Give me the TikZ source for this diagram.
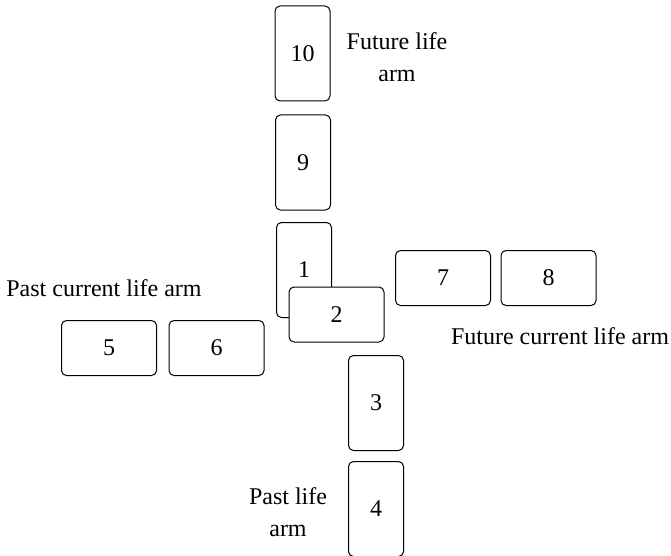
\documentclass[tikz,border=0pt]{standalone}
\usepackage{fontspec}
\setmainfont{Liberation Serif}
\usepackage{tikz}

\tikzset{
  card/.style={draw, line width=1pt, rounded corners=5pt, fill=white,
    inner sep=0pt, font=\fontsize{24}{32}\selectfont},
  vcard/.style={card, minimum width=55pt, minimum height=95pt},
  hcard/.style={card, minimum width=95pt, minimum height=55pt},
  armlabel/.style={align=center, inner sep=0pt, font=\fontsize{24}{32}\selectfont}
}

\begin{document}
\begin{tikzpicture}[x=1pt, y=-1pt]
  \useasboundingbox (0,0) rectangle (671,556);

  % upright column: future life arm down to the centre
  \node[vcard] (c10) at (302.5, 53.5) {10};
  \node[vcard] (c9) at (303, 162.5) {9};
  \node[vcard] (c1) at (304, 270) {1};
  \node[hcard] (c2) at (336.5, 314.5) {2};

  % current life arms, left and right
  \node[hcard] (c5) at (109, 348) {5};
  \node[hcard] (c6) at (216.5, 348) {6};
  \node[hcard] (c7) at (443, 278) {7};
  \node[hcard] (c8) at (548.5, 278) {8};

  % past life arm
  \node[vcard] (c3) at (376, 403) {3};
  \node[vcard] (c4) at (376, 509) {4};

  \node[armlabel] (futurelife) at (397, 57) {Future life\\arm};
  \node[armlabel] (pastcurrent) at (104, 288) {Past current life arm};
  \node[armlabel] (futurecurrent) at (560, 336) {Future current life arm};
  \node[armlabel] (pastlife) at (288, 512) {Past life\\arm};
\end{tikzpicture}
\end{document}
